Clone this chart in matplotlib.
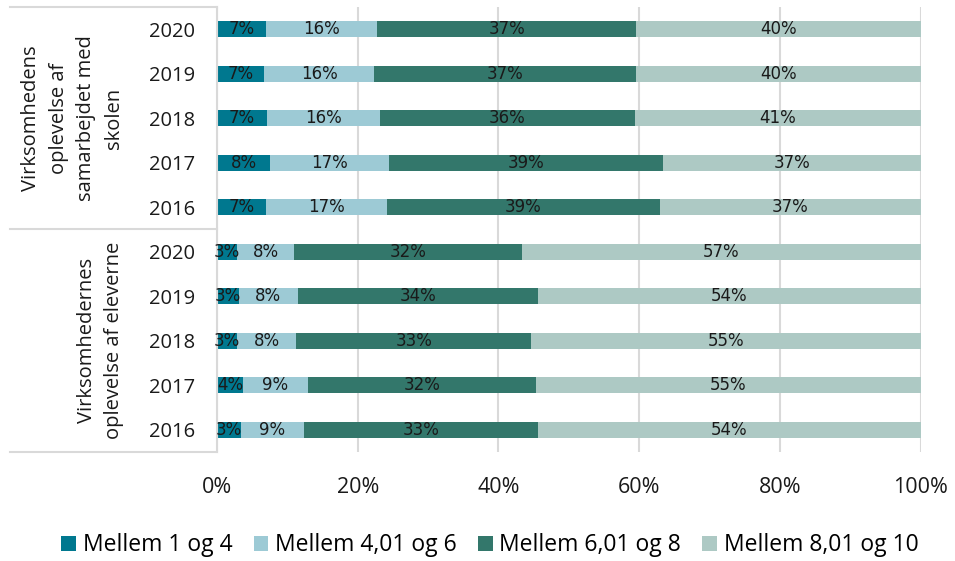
import matplotlib.pyplot as plt
import matplotlib.transforms as mtransforms
import numpy as np

years = ["2020", "2019", "2018", "2017", "2016"]
groups = [
    "Virksomhedens\noplevelse af\nsamarbejdet med\nskolen",
    "Virksomhedernes\noplevelse af eleverne",
]
series_names = ["Mellem 1 og 4", "Mellem 4,01 og 6", "Mellem 6,01 og 8", "Mellem 8,01 og 10"]
colors = ["#00788f", "#9dcad5", "#33776b", "#adc9c4"]

# group 1: samarbejdet med skolen (2020..2016)
g1_s1 = [7.0, 6.7, 7.1, 7.6, 6.9]
g1_s2 = [15.8, 15.6, 16.1, 16.9, 17.2]
g1_s3 = [36.8, 37.3, 36.2, 38.9, 38.9]
g1_s4 = [40.4, 40.4, 40.6, 36.6, 37.0]

# group 2: oplevelse af eleverne (2020..2016)
g2_s1 = [2.9, 3.1, 2.9, 3.7, 3.4]
g2_s2 = [8.1, 8.4, 8.4, 9.2, 8.9]
g2_s3 = [32.3, 34.1, 33.3, 32.4, 33.3]
g2_s4 = [56.7, 54.4, 55.4, 54.7, 54.4]

xticks = [0, 20, 40, 60, 80, 100]

main_font = "Open Sans"
grid_col = "#d9d9d9"

series = [g1_s1 + g2_s1, g1_s2 + g2_s2, g1_s3 + g2_s3, g1_s4 + g2_s4]
row_labels = years + years
ypos = np.arange(len(row_labels))

fig = plt.figure(figsize=(9.55, 5.61), dpi=100)
ax = fig.add_axes([217 / 955, 1 - 452 / 561, (920.5 - 217) / 955, 445 / 561])

left = np.zeros(len(ypos))
for vals, col, name in zip(series, colors, series_names):
    vals = np.array(vals)
    ax.barh(ypos, vals, left=left, height=0.36, color=col, label=name, zorder=2)
    for y, l, v in zip(ypos, left, vals):
        ax.text(l + v / 2, y, f"{v:.0f}%", ha="center", va="center",
                fontsize=12, color="#1a1a1a", family="DejaVu Sans", zorder=3)
    left += vals

ax.set_xlim(0, 100)
ax.set_ylim(len(ypos) - 0.5, -0.5)
ax.set_xticks(xticks)
ax.set_xticklabels([f"{t}%" for t in xticks], family=main_font, fontsize=15.5)
ax.set_yticks(ypos)
ax.set_yticklabels(row_labels, family=main_font, fontsize=14.5)
ax.tick_params(axis="both", length=0, labelcolor="#1a1a1a")
ax.tick_params(axis="y", pad=16)
ax.tick_params(axis="x", pad=18)
ax.xaxis.grid(True, color=grid_col, linewidth=1.5, zorder=0)
for s in ["top", "right", "bottom"]:
    ax.spines[s].set_visible(False)
ax.spines["left"].set_color(grid_col)
ax.spines["left"].set_linewidth(1.5)

# multi-level category axis lines
trans = mtransforms.blended_transform_factory(fig.transFigure, ax.transData)
for yb in [-0.5, 4.5, 9.5]:
    ax.plot([10 / 955, 217 / 955], [yb, yb], transform=trans, color=grid_col,
            linewidth=1.5, clip_on=False)

# group labels
for i, g in enumerate(groups):
    ax.text(124 / 955, 2 + 5 * i, g, transform=trans, rotation=90, ha="right",
            va="center", multialignment="center", family=main_font, fontsize=14.5,
            linespacing=1.5, color="#1a1a1a")

fig.legend(loc="lower center", bbox_to_anchor=(0.513, -0.03), ncol=4, frameon=False,
           handlelength=0.65, handleheight=0.65, handletextpad=0.3, columnspacing=0.9,
           prop={"family": main_font, "size": 16.5})

fig.savefig("out.png", dpi=100)
